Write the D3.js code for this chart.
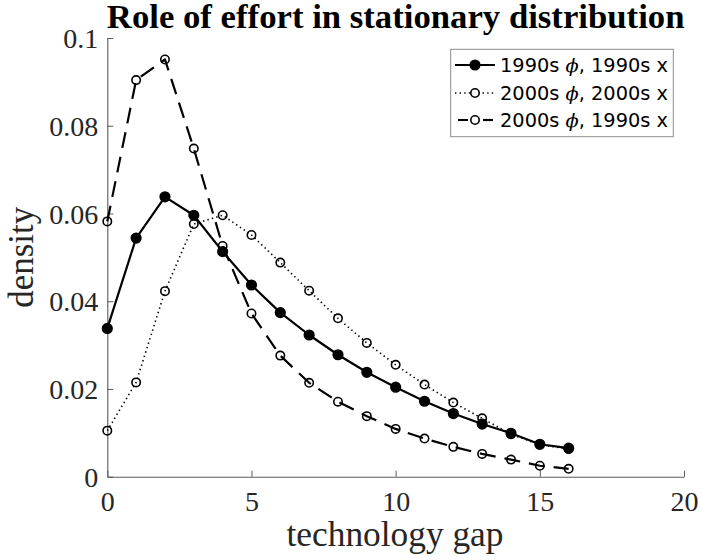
<!DOCTYPE html>
<html>
<head>
<meta charset="utf-8">
<script src="https://cdn.jsdelivr.net/npm/d3@7"></script>
<style>
  body { margin: 0; background: #fff; }
  svg { display: block; }
</style>
</head>
<body>
<script>
// technology gap values
var gap = [0, 1, 2, 3, 4, 5, 6, 7, 8, 9, 10, 11, 12, 13, 14, 15, 16];

// densities
var base90 = [0.0338, 0.0544, 0.0638, 0.0596, 0.0513, 0.0437, 0.0374, 0.0323, 0.0278,
              0.0238, 0.0204, 0.0172, 0.0144, 0.0120, 0.0099, 0.0074, 0.0065];
var both00 = [0.0105, 0.0215, 0.0423, 0.0576, 0.0596, 0.0551, 0.0488, 0.0424, 0.0361,
              0.0305, 0.0255, 0.0210, 0.0169, 0.0133, 0.0097, 0.0073, 0.0063];
var phi00x90 = [0.0582, 0.0904, 0.0951, 0.0748, 0.0526, 0.0372, 0.0276, 0.0214, 0.0171,
                0.0138, 0.0109, 0.0087, 0.0068, 0.0052, 0.0039, 0.0025, 0.0018];

var xTicks = [0, 5, 10, 15, 20];
var yTicks = [0, 0.02, 0.04, 0.06, 0.08, 0.1];
var legendLabels = [["1990s", "1990s x"], ["2000s", "2000s x"], ["2000s", "1990s x"]];

var series = [
  {values: base90, dash: null, width: 2.2, filled: true},
  {values: both00, dash: "1.4,3.2", width: 1.6, filled: false},
  {values: phi00x90, dash: "16,9", width: 2.2, filled: false}
];

var W = 701, H = 560;
var plotL = 107.3, plotR = 684, plotT = 38, plotB = 476.7;
var ink = "#262626";

var svg = d3.select("body").append("svg")
  .attr("width", W)
  .attr("height", H);

var x = d3.scaleLinear().domain([0, 20]).range([plotL, plotR]);
var y = d3.scaleLinear().domain([0, 0.1]).range([plotB, plotT]);

function fitText(sel, target) {
  var len = sel.node().getComputedTextLength();
  var fs = parseFloat(sel.style("font-size"));
  sel.style("font-size", (fs * target / len) + "px");
}

// axes
var xAxis = d3.axisBottom(x).tickValues(xTicks).tickSizeInner(-6).tickSizeOuter(0)
  .tickFormat(d3.format("d"));
var yAxis = d3.axisLeft(y).tickValues(yTicks).tickSizeInner(-6).tickSizeOuter(0)
  .tickFormat(function (d) { return d === 0 ? "0" : d3.format("")(d); });

var gx = svg.append("g").attr("transform", "translate(0," + plotB + ")").call(xAxis);
var gy = svg.append("g").attr("transform", "translate(" + plotL + ",0)").call(yAxis);

[gx, gy].forEach(function (g) {
  g.select(".domain").attr("stroke", "#5a5a5a").attr("stroke-width", 1.1);
  g.selectAll(".tick line").attr("stroke", "#5a5a5a").attr("stroke-width", 1);
  g.selectAll(".tick text")
    .attr("fill", ink)
    .style("font-family", "'Liberation Serif', serif")
    .style("font-size", "28px");
});
gx.selectAll(".tick text").attr("dy", null).attr("y", 34);
gy.selectAll(".tick text").attr("dy", "0.34em").attr("x", -9);

// lines and markers
var line = d3.line()
  .x(function (d, i) { return x(gap[i]); })
  .y(function (d) { return y(d); });

series.forEach(function (s) {
  svg.append("path")
    .datum(s.values)
    .attr("d", line)
    .attr("fill", "none")
    .attr("stroke", "#000")
    .attr("stroke-width", s.width)
    .attr("stroke-dasharray", s.dash)
    .attr("stroke-linejoin", "round");

  svg.selectAll(null)
    .data(s.values)
    .enter().append("circle")
    .attr("cx", function (d, i) { return x(gap[i]); })
    .attr("cy", function (d) { return y(d); })
    .attr("r", s.filled ? 4.8 : 4.2)
    .attr("fill", s.filled ? "#000" : "none")
    .attr("stroke", "#000")
    .attr("stroke-width", 1.6);
});

// title
var title = svg.append("text")
  .attr("x", (plotL + plotR) / 2)
  .attr("y", 28)
  .attr("text-anchor", "middle")
  .attr("fill", "#000")
  .style("font-family", "'Liberation Serif', serif")
  .style("font-weight", "bold")
  .style("font-size", "30px")
  .text("Role of effort in stationary distribution");
fitText(title, 578);

// axis labels
var xl = svg.append("text")
  .attr("x", 395)
  .attr("y", 546)
  .attr("text-anchor", "middle")
  .attr("fill", ink)
  .style("font-family", "'Liberation Serif', serif")
  .style("font-size", "30px")
  .text("technology gap");
fitText(xl, 217);

var yl = svg.append("text")
  .attr("transform", "translate(33," + (plotT + plotB) / 2 + ") rotate(-90)")
  .attr("text-anchor", "middle")
  .attr("fill", ink)
  .style("font-family", "'Liberation Serif', serif")
  .style("font-size", "30px")
  .text("density");
fitText(yl, 101);

// legend
var legend = svg.append("g");
legend.append("rect")
  .attr("x", 450.7).attr("y", 49.3)
  .attr("width", 222.6).attr("height", 87.4)
  .attr("fill", "#fff")
  .attr("stroke", "#8c8c8c")
  .attr("stroke-width", 1);

var rowY = [65, 93, 120];
legendLabels.forEach(function (lab, i) {
  var s = series[i];
  var g = legend.append("g").attr("transform", "translate(0," + rowY[i] + ")");
  var x0 = i === 2 ? 458 : 455, x1 = i === 2 ? 493 : 495;
  g.append("line")
    .attr("x1", x0).attr("x2", x1)
    .attr("stroke", "#000")
    .attr("stroke-width", s.width)
    .attr("stroke-dasharray", i === 2 ? "10,15" : s.dash);
  if (i === 2) {
    g.append("line")
      .attr("x1", 483).attr("x2", 493)
      .attr("stroke", "#000")
      .attr("stroke-width", s.width);
  }
  g.append("circle")
    .attr("cx", 475).attr("r", s.filled ? 4.8 : 4.2)
    .attr("fill", s.filled ? "#000" : "#fff")
    .attr("stroke", "#000")
    .attr("stroke-width", 1.6);
  var t = g.append("text")
    .attr("x", 500).attr("dy", "0.36em")
    .attr("fill", "#000")
    .style("font-family", "'DejaVu Sans', sans-serif")
    .style("font-size", "19px");
  t.append("tspan").text(lab[0] + " ");
  t.append("tspan")
    .style("font-family", "'DejaVu Serif', serif")
    .style("font-style", "italic")
    .style("font-size", "19px")
    .text("\u03D5");
  t.append("tspan").text(", " + lab[1]);
  t.attr("textLength", 168).attr("lengthAdjust", "spacingAndGlyphs");
});
</script>
</body>
</html>
